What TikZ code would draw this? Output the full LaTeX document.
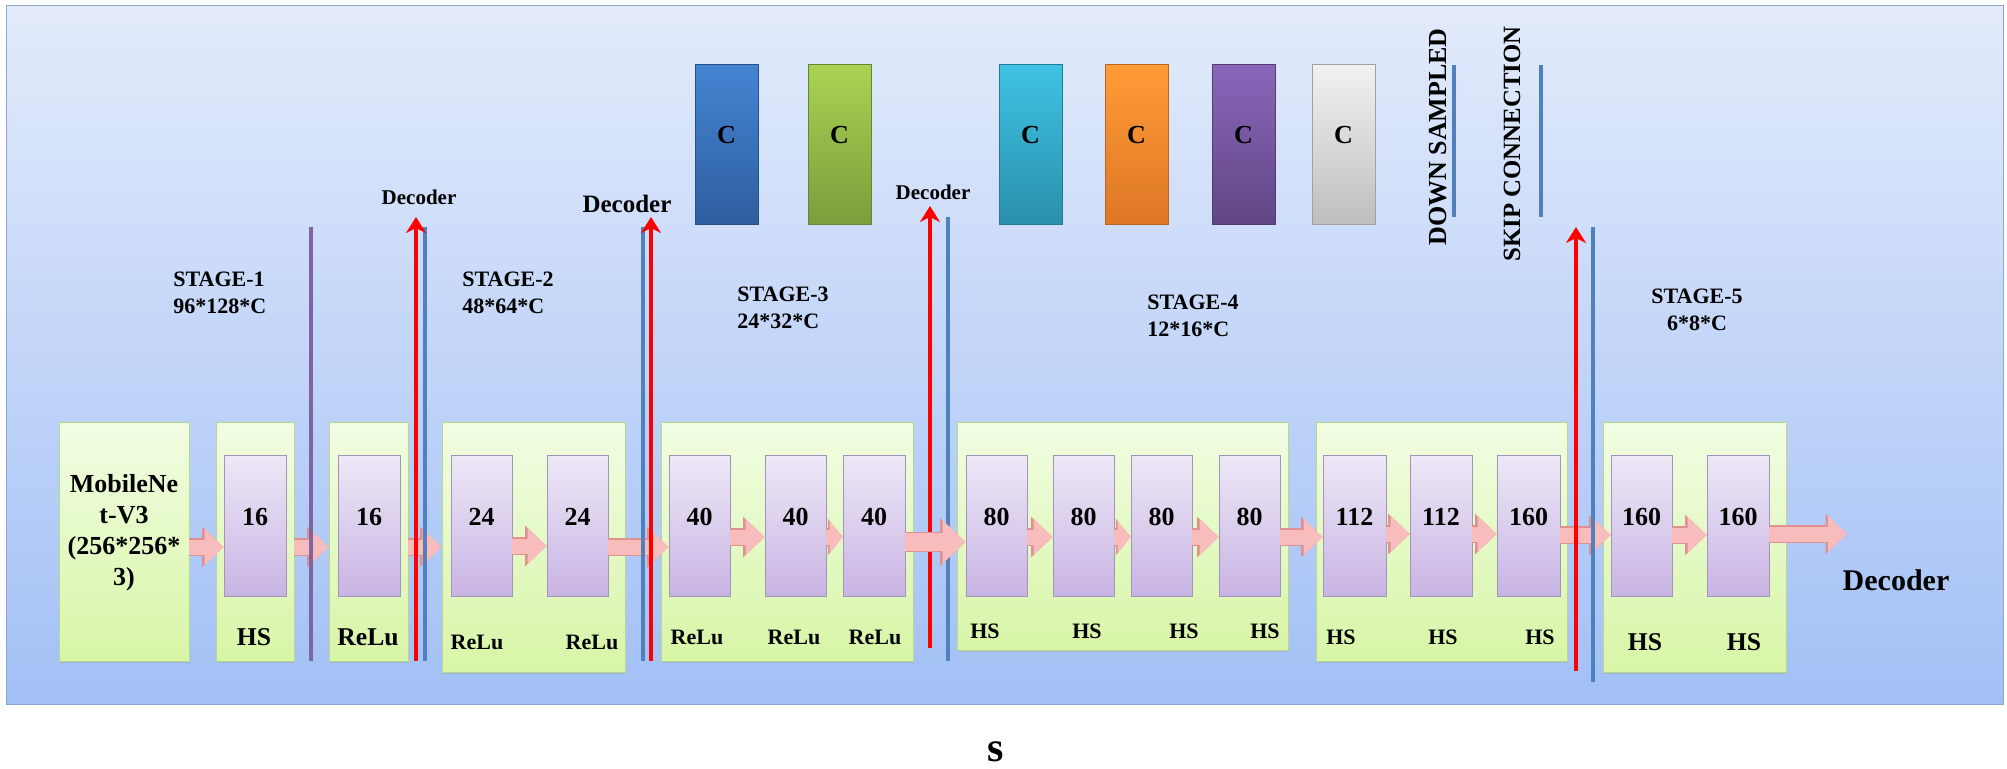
\documentclass[tikz,border=0pt]{standalone}
\usepackage{fontspec}
\setmainfont{Liberation Serif}
\usetikzlibrary{positioning,fit,arrows.meta,shadows}
\definecolor{PanelTop}{HTML}{E3EBFB}
\definecolor{PanelBot}{HTML}{A2C0F6}
\definecolor{PanelEdge}{HTML}{8CA7D0}
\definecolor{StageTop}{HTML}{F1FDE3}
\definecolor{StageBot}{HTML}{D8F5A6}
\definecolor{StageEdge}{HTML}{B9D78E}
\definecolor{LayerTop}{HTML}{EEE8F7}
\definecolor{LayerBot}{HTML}{C8B4E3}
\definecolor{LayerEdge}{HTML}{A294BA}
\definecolor{FlowFill}{HTML}{F8BCBC}
\definecolor{FlowEdge}{HTML}{DF9090}
\definecolor{SkipBlue}{HTML}{4F81BD}
\definecolor{DownPurple}{HTML}{8064A2}
\definecolor{DecRed}{HTML}{FF0000}
\definecolor{CBlueA}{HTML}{4585D3}
\definecolor{CBlueB}{HTML}{2E5E9F}
\definecolor{CGreenA}{HTML}{AAD353}
\definecolor{CGreenB}{HTML}{7C9D3B}
\definecolor{CCyanA}{HTML}{3FC3E5}
\definecolor{CCyanB}{HTML}{2A90AB}
\definecolor{COrangeA}{HTML}{FF9C37}
\definecolor{COrangeB}{HTML}{DD7726}
\definecolor{CPurpleA}{HTML}{8B66BA}
\definecolor{CPurpleB}{HTML}{614685}
\definecolor{CGrayA}{HTML}{F2F2F2}
\definecolor{CGrayB}{HTML}{BEBEBE}
\tikzset{
  stagebox/.style={draw=StageEdge, line width=0.4pt, top color=StageTop,
    bottom color=StageBot, inner sep=0pt,
    drop shadow={shadow xshift=0.7pt, shadow yshift=-0.9pt, opacity=0.25}},
  layerbox/.style={draw=LayerEdge, line width=0.4pt, top color=LayerTop,
    bottom color=LayerBot, inner sep=0pt, font=\bfseries\fontsize{13}{15}\selectfont},
  cbox/.style={line width=0.5pt, inner sep=0pt,
    font=\bfseries\fontsize{13}{15}\selectfont},
  act/.style={font=\bfseries\fontsize{11}{13}\selectfont, inner sep=0pt},
  actbig/.style={font=\bfseries\fontsize{12.8}{15}\selectfont, inner sep=0pt},
  stagelbl/.style={font=\bfseries\fontsize{11}{13.5}\selectfont, inner sep=0pt},
  flow/.style={FlowFill, line width=7.5pt, -{Triangle[length=9.5pt,width=17.5pt]},
    preaction={draw=FlowEdge, line width=8.7pt, -{Triangle[length=10.7pt,width=19.5pt]}}},
  shortflow/.style={FlowFill, line width=7.5pt, -{Triangle[length=6.5pt,width=16pt]},
    preaction={draw=FlowEdge, line width=8.7pt, -{Triangle[length=7.4pt,width=17.8pt]}}},
  bigflow/.style={FlowFill, line width=9pt, -{Triangle[length=11.5pt,width=21pt]},
    preaction={draw=FlowEdge, line width=10.2pt, -{Triangle[length=12.7pt,width=23pt]}}},
  decarrow/.style={DecRed, line width=2.4pt, -{Stealth[length=8pt,width=10pt,inset=2.5pt]}},
  skipline/.style={SkipBlue, line width=1.9pt},
  downline/.style={DownPurple, line width=1.8pt},
}

\begin{document}
\begin{tikzpicture}[x=0.5pt, y=-0.5pt]
  \useasboundingbox (0,0) rectangle (2007,768);
  % panel
  \draw[PanelEdge, top color=PanelTop, bottom color=PanelBot] (6,5) rectangle (2003,704);

  % stage boxes
  \node[stagebox, fit={(59,422) (189,661)}, align=center,
    font=\bfseries\fontsize{13}{15.5}\selectfont] (net) {MobileNe\\t-V3\\(256*256*\\3)};
  \node[stagebox, fit={(216,422) (294,661)}] (s1a) {};
  \node[stagebox, fit={(329,422) (408,661)}] (s1b) {};
  \node[stagebox, fit={(442,422) (625,672)}] (s2) {};
  \node[stagebox, fit={(661,422) (913,661)}] (s3) {};
  \node[stagebox, fit={(957,422) (1288,650)}] (s4) {};
  \node[stagebox, fit={(1316,422) (1567,661)}] (s5a) {};
  \node[stagebox, fit={(1603,422) (1786,672)}] (s5b) {};

  % layers
  \foreach \n/\l/\r/\c in {1/224/286/16, 2/338/400/16, 3/451/512/24, 4/547/608/24,
      5/669/730/40, 6/765/826/40, 7/843/905/40, 8/966/1027/80, 9/1053/1114/80,
      10/1131/1192/80, 11/1219/1280/80, 12/1323/1386/112, 13/1410/1472/112,
      14/1497/1560/160, 15/1611/1672/160, 16/1707/1769/160}
    \node[layerbox, fit={(\l,455) (\r,596)}] (b\n) {\c};

  % activations
  \node[actbig] (a1) at (254,637) {HS};
  \node[actbig] (a2) at (368,637) {ReLu};
  \foreach \n/\x/\y/\t in {3/477/642/ReLu, 4/592/642/ReLu, 5/697/637/ReLu,
      6/794/637/ReLu, 7/875/637/ReLu, 8/985/631/HS, 9/1087/631/HS, 10/1184/631/HS,
      11/1265/631/HS, 12/1341/637/HS, 13/1443/637/HS, 14/1540/637/HS}
    \node[act] (a\n) at (\x,\y) {\t};
  \node[actbig] (a15) at (1645,642) {HS};
  \node[actbig] (a16) at (1744,642) {HS};

  % flow
  \draw[flow] (net.east |- 0,547) -- (b1.west |- 0,547);
  \draw[flow] (s1a.east |- 0,547) -- (s1b.west |- 0,547);
  \draw[flow] (s1b.east |- 0,547) -- (s2.west |- 0,547);
  \draw[flow] (b3.east |- 0,546) -- (b4.west |- 0,546);
  \draw[flow] (b4.east |- 0,547) -- (b5.west |- 0,547);
  \draw[flow] (b5.east |- 0,537) -- (b6.west |- 0,537);
  \draw[shortflow] (b6.east |- 0,537) -- (b7.west |- 0,537);
  \draw[flow] (b8.east |- 0,537) -- (b9.west |- 0,537);
  \draw[shortflow] (b9.east |- 0,537) -- (b10.west |- 0,537);
  \draw[flow] (b10.east |- 0,537) -- (b11.west |- 0,537);
  \draw[flow] (b11.east |- 0,537) -- (b12.west |- 0,537);
  \draw[flow] (b12.east |- 0,534) -- (b13.west |- 0,534);
  \draw[flow] (b13.east |- 0,534) -- (b14.west |- 0,534);
  \draw[flow] (b14.east |- 0,535) -- (b15.west |- 0,535);
  \draw[flow] (b15.east |- 0,535) -- (b16.west |- 0,535);
  \coordinate (out) at (1847,534);
  \draw[flow] (b16.east |- out) -- (out);

  % stage cuts
  \draw[downline] (311,227) -- (311,661);
  \foreach \x/\t/\b in {425/227/661, 643/227/661, 948/217/661, 1593/227/682}
    \draw[skipline] (\x,\t) -- (\x,\b);
  \foreach \n/\x/\b/\t in {1/416/661/217, 2/651/661/217, 3/930/648/206, 4/1576/671/227} {
    \coordinate (rb\n) at (\x,\b);
    \coordinate (rt\n) at (\x,\t);
    \draw[decarrow] (rb\n) -- (rt\n);
  }
  \draw[bigflow] (b7.east |- 0,542) -- (b8.west |- 0,542);

  % labels
  \node[font=\bfseries\fontsize{10.5}{12}\selectfont] (dec1) at (419,197) {Decoder};
  \node[font=\bfseries\fontsize{12.5}{14}\selectfont] (dec2) at (627,204) {Decoder};
  \node[font=\bfseries\fontsize{10.5}{12}\selectfont] (dec3) at (933,192) {Decoder};
  \node[font=\bfseries\fontsize{15}{17}\selectfont] (decout) at (1896,580) {Decoder};
  \node[stagelbl, anchor=west, align=left] (st1) at (173,293) {STAGE-1\\96*128*C};
  \node[stagelbl, anchor=west, align=left] (st2) at (462,293) {STAGE-2\\48*64*C};
  \node[stagelbl, anchor=west, align=left] (st3) at (737,308) {STAGE-3\\24*32*C};
  \node[stagelbl, anchor=west, align=left] (st4) at (1147,316) {STAGE-4\\12*16*C};
  \node[stagelbl, align=center] (st5) at (1697,310) {STAGE-5\\6*8*C};

  % channel blocks
  \foreach \n/\l/\ca/\cb in {1/695/CBlueA/CBlueB, 2/808/CGreenA/CGreenB,
      3/999/CCyanA/CCyanB, 4/1105/COrangeA/COrangeB, 5/1212/CPurpleA/CPurpleB,
      6/1312/CGrayA/CGrayB}
    \node[cbox, draw=\cb!85!black, top color=\ca, bottom color=\cb,
      fit={(\l,64) (\l+63,224)}] (c\n) {C};

  % legend
  \node[rotate=90, font=\bfseries\fontsize{13}{15}\selectfont] (down) at (1438,137) {DOWN SAMPLED};
  \draw[skipline] (1454,65) -- (1454,217);
  \node[rotate=90, font=\bfseries\fontsize{12.4}{15}\selectfont] (skip) at (1512,144) {SKIP CONNECTION};
  \draw[skipline] (1541,65) -- (1541,217);

  \node[font=\bfseries\fontsize{21}{24}\selectfont] (cap) at (996,752) {s};
\end{tikzpicture}
\end{document}
